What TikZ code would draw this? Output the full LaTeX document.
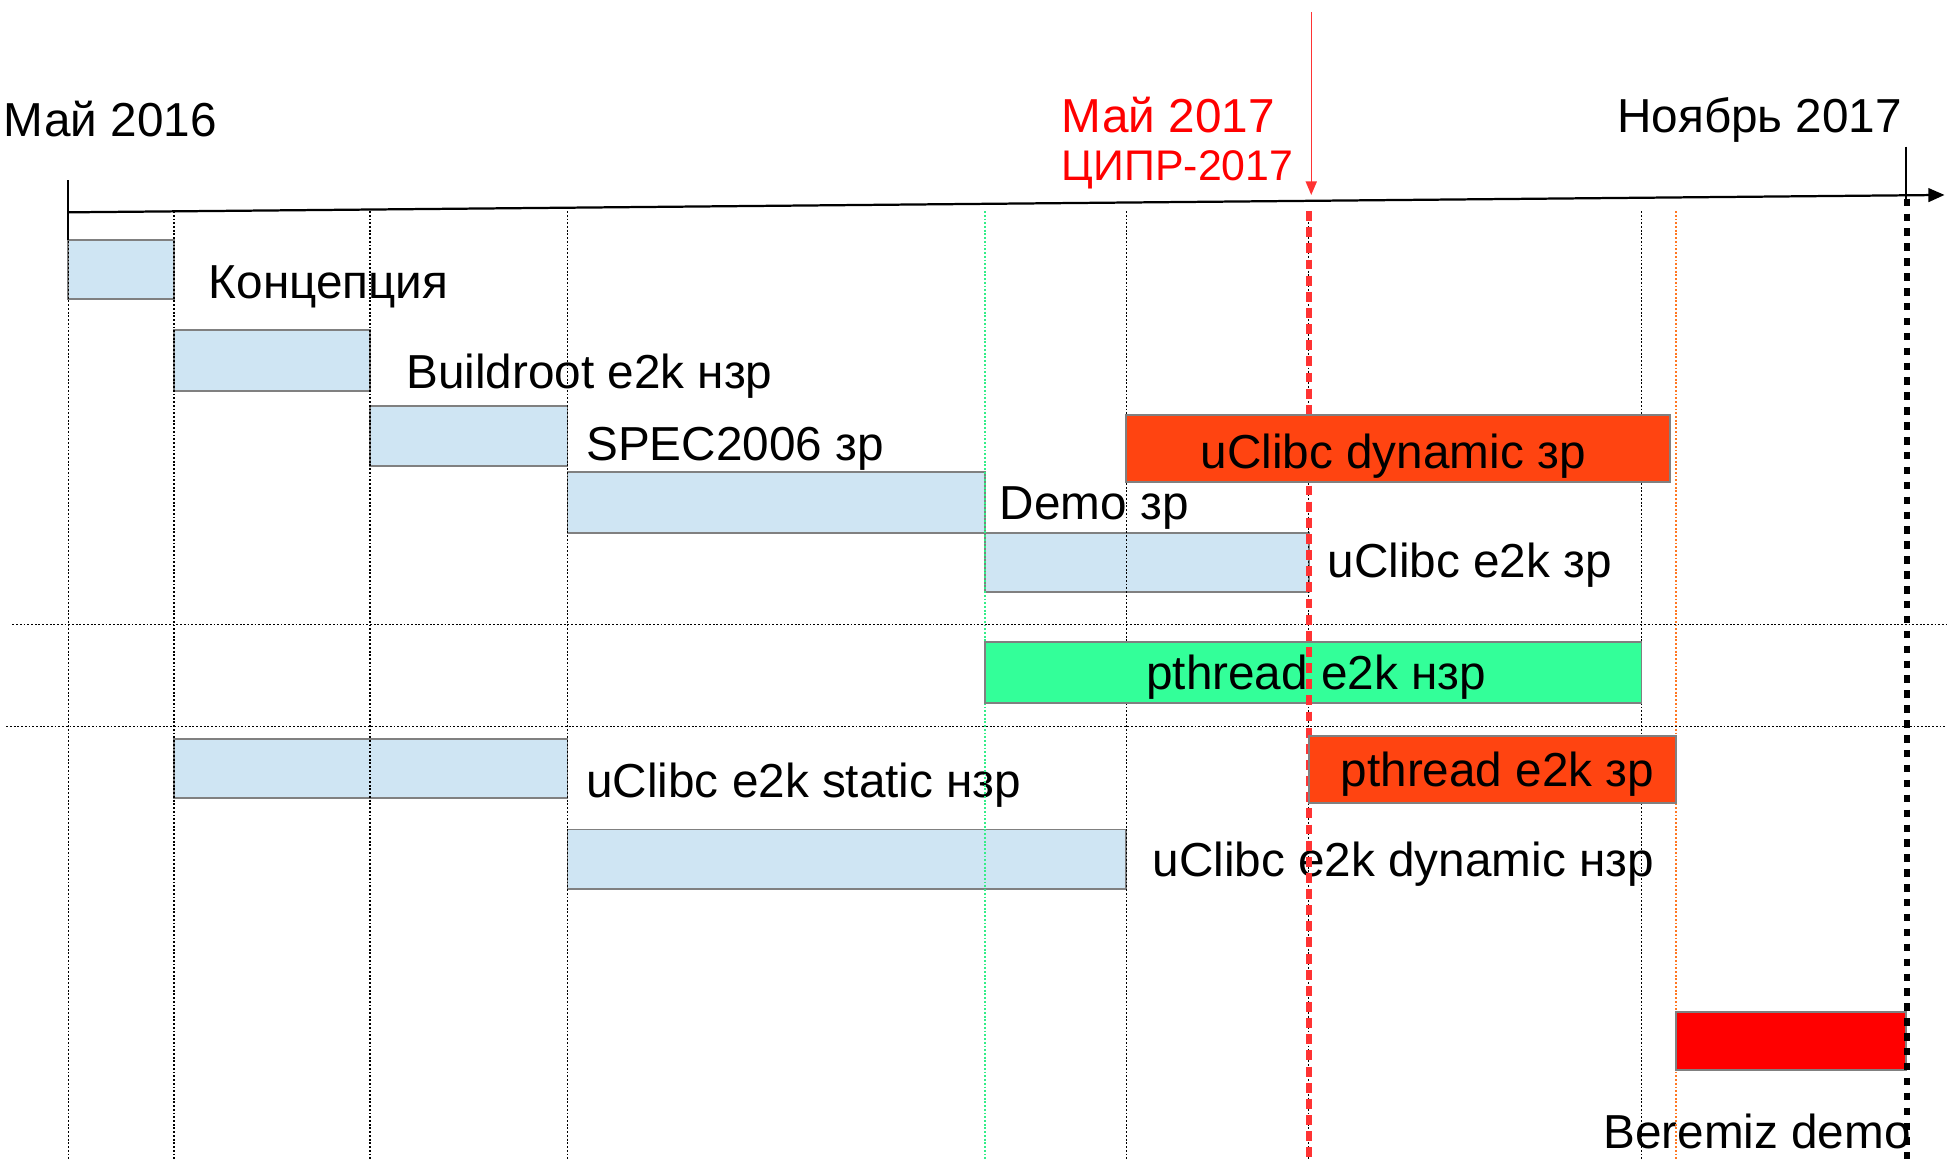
\documentclass[tikz,border=0pt]{standalone}
\usepackage{fontspec}
\setmainfont{Liberation Sans}
\usetikzlibrary{arrows.meta, positioning}
\definecolor{barblue}{HTML}{CFE5F3}
\definecolor{barorange}{HTML}{FF4411}
\definecolor{bargreen}{HTML}{33FF99}
\definecolor{barred}{HTML}{FF0000}
\definecolor{ciprred}{HTML}{FF3333}
\definecolor{gridgreen}{HTML}{33EE88}
\definecolor{gridorange}{HTML}{FF7722}

\begin{document}
\begin{tikzpicture}[
    x=1pt, y=-1pt,
    bar/.style={rectangle, draw=gray, line width=1.5pt, anchor=north west, inner sep=0pt, outer sep=0pt},
    task/.style={bar, fill=barblue},
    hot/.style={bar, fill=barorange},
    lbl/.style={anchor=base west, inner sep=0pt, font=\fontsize{38.4}{46}\selectfont},
    inlbl/.style={lbl, anchor=base},
    vgrid/.style={line width=1.1pt, dash pattern=on 1.5pt off 1.5pt},
    axis/.style={-{Triangle[length=13pt, width=11pt]}, line width=1.8pt},
    mark17/.style={-{Triangle[length=11pt, width=9pt]}, line width=1.2pt, color=ciprred}
]
\useasboundingbox (0,0) rectangle (1568,933);

% stages
\node[task, minimum width=85, minimum height=48] (concept) at (55,193) {};
\node[task, minimum width=158, minimum height=49] (buildroot) at (140,266) {};
\node[task, minimum width=159, minimum height=48] (spec) at (298,327) {};
\node[task, minimum width=336, minimum height=49] (demo) at (457,380) {};
\node[task, minimum width=261, minimum height=48] (uclibc) at (793,429) {};
\node[task, minimum width=317, minimum height=48] (static) at (140,595) {};
\node[task, minimum width=450, minimum height=48] (dynnzr) at (457,668) {};

\node[lbl] (conceptlbl) at (168,240) {Концепция};
\node[lbl] (buildrootlbl) at (327,313) {Buildroot e2k нзр};
\node[lbl] (speclbl) at (472,371) {SPEC2006 зр};
\node[lbl] (demolbl) at (805,418) {Demo зр};
\node[lbl] (uclibclbl) at (1069,465) {uClibc e2k зр};
\node[lbl] (staticlbl) at (472,642) {uClibc e2k static нзр};
\node[lbl] (dynnzrlbl) at (928,706) {uClibc e2k dynamic нзр};
\node[lbl, anchor=base east] (beremizlbl) at (1539,925) {Beremiz demo};

% grid
\foreach \gx in {55,140,298,457,907,1054,1322}
  \draw[vgrid] (\gx,170) -- (\gx,933);
\draw[vgrid, gridgreen, line width=1.6pt] (793,170) -- (793,933);
\draw[vgrid, gridorange, line width=1.4pt] (1350,170) -- (1350,933);
\draw[vgrid] (10,503) -- (1568,503);
\draw[vgrid] (5,585) -- (1568,585);

\node[bar, fill=bargreen, minimum width=529, minimum height=49] (pthnzr) at (793,517) {};
\node[inlbl] (pthnzrlbl) at (1060,555) {pthread e2k нзр};

% May 2017
\draw[line width=4.5pt, ciprred, dash pattern=on 8pt off 5pt] (1054,170) -- (1054,933);

\node[hot, minimum width=438, minimum height=54] (dynzr) at (907,334) {};
\node[inlbl] (dynzrlbl) at (1122,377) {uClibc dynamic зр};
\node[hot, minimum width=296, minimum height=54] (pthzr) at (1054,593) {};
\node[inlbl] (pthzrlbl) at (1206,633) {pthread e2k зр};
\node[bar, fill=barred, minimum width=185, minimum height=47] (beremiz) at (1350,815) {};

% Nov 2017
\draw[line width=5pt, dash pattern=on 6pt off 6pt] (1536,160) -- (1536,933);

% timeline
\coordinate (t0) at (55,171);
\coordinate (t1) at (1566,157);
\draw[axis] (t0) -- (t1);
\draw[line width=1.5pt] (55,145) -- (55,193);
\draw[line width=1.2pt] (1535,118) -- (1535,160);
\coordinate (ciprtop) at (1056,10);
\coordinate (ciprtip) at (1056,157);
\draw[mark17] (ciprtop) -- (ciprtip);

\node[lbl] (start) at (3,110) {Май 2016};
\node[lbl, red] (may17) at (855,107) {Май 2017};
\node[lbl, red, font=\fontsize{34.5}{41}\selectfont] (cipr) at (855,145) {ЦИПР-2017};
\node[lbl, anchor=base east] (finish) at (1532,107) {Ноябрь 2017};
\end{tikzpicture}
\end{document}
